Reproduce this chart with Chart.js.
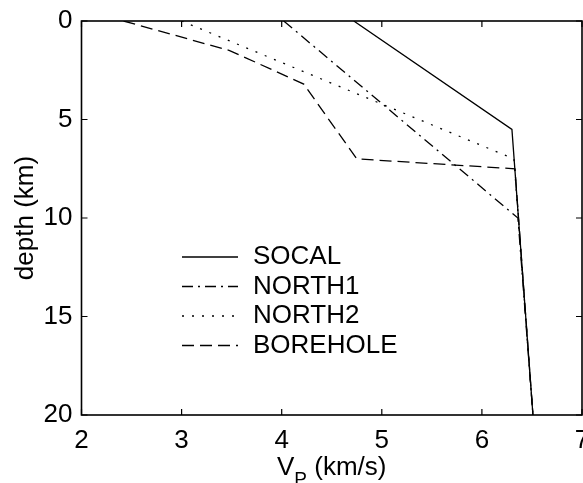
<!DOCTYPE html>
<html>
<head>
<meta charset="utf-8">
<script src="https://cdn.jsdelivr.net/npm/chart.js@4"></script>
<style>
  html, body { margin: 0; padding: 0; background: #fff; }
  #wrap { width: 583px; height: 483px; }
</style>
</head>
<body>
<div id="wrap"><canvas id="vpChart"></canvas></div>
<script>
// velocity models: P velocity (km/s) against depth (km)
const modelNames = ['SOCAL', 'NORTH1', 'NORTH2', 'BOREHOLE'];

const socalVp = [4.72, 6.30, 6.51];
const socalDepth = [0, 5.5, 20];

const north1Vp = [4.02, 6.36, 6.51];
const north1Depth = [0, 10, 20];

const north2Vp = [3.0, 6.32, 6.51];
const north2Depth = [0, 7.0, 20];

const boreholeVp = [2.42, 3.48, 4.22, 4.75, 6.33, 6.51];
const boreholeDepth = [0, 1.5, 3.2, 7.0, 7.5, 20];

const vpTicks = [2, 3, 4, 5, 6, 7];
const depthTicks = [0, 5, 10, 15, 20];

const FONT = "'Liberation Sans', Arial, Helvetica, sans-serif";
Chart.defaults.font.family = FONT;
Chart.defaults.font.size = 26;
Chart.defaults.color = '#000';

const toPoints = (vp, depth) => vp.map((v, i) => ({ x: v, y: depth[i] }));

const lineStyle = (label, pts, dash) => ({
  label,
  data: pts,
  showLine: true,
  borderColor: '#000',
  borderWidth: 1.3,
  borderDash: dash,
  pointRadius: 0,
  fill: false,
  tension: 0
});

const datasets = [
  lineStyle(modelNames[0], toPoints(socalVp, socalDepth), []),
  lineStyle(modelNames[1], toPoints(north1Vp, north1Depth), [11, 5, 2, 5]),
  lineStyle(modelNames[2], toPoints(north2Vp, north2Depth), [2, 8]),
  lineStyle(modelNames[3], toPoints(boreholeVp, boreholeDepth), [12, 6])
];

// box, inward ticks on all four sides, legend and the V_P axis title
const matlabAxes = {
  id: 'matlabAxes',
  afterDatasetsDraw(chart) {
    const { ctx, chartArea: a, scales } = chart;
    ctx.save();
    ctx.strokeStyle = '#000';
    ctx.lineWidth = 1.6;
    ctx.setLineDash([]);
    ctx.strokeRect(a.left, a.top, a.right - a.left, a.bottom - a.top);

    const tl = 6;
    ctx.lineWidth = 1.2;
    ctx.beginPath();
    scales.x.ticks.forEach(t => {
      const px = scales.x.getPixelForValue(t.value);
      ctx.moveTo(px, a.bottom); ctx.lineTo(px, a.bottom - tl);
      ctx.moveTo(px, a.top); ctx.lineTo(px, a.top + tl);
    });
    scales.y.ticks.forEach(t => {
      const py = scales.y.getPixelForValue(t.value);
      ctx.moveTo(a.left, py); ctx.lineTo(a.left + tl, py);
      ctx.moveTo(a.right, py); ctx.lineTo(a.right - tl, py);
    });
    ctx.stroke();

    // legend
    const lx0 = 182, lx1 = 238, tx = 253, ly0 = 257, dy = 29.5;
    ctx.font = '26px ' + FONT;
    ctx.fillStyle = '#000';
    ctx.textBaseline = 'middle';
    ctx.textAlign = 'left';
    chart.data.datasets.forEach((ds, i) => {
      const y = ly0 + i * dy;
      ctx.lineWidth = ds.borderWidth;
      ctx.setLineDash(ds.borderDash);
      ctx.beginPath();
      ctx.moveTo(lx0, y); ctx.lineTo(lx1, y);
      ctx.stroke();
      ctx.fillText(ds.label, tx, y);
    });
    ctx.setLineDash([]);

    // x title with subscript
    const big = '26px ' + FONT, small = '19px ' + FONT;
    ctx.textBaseline = 'alphabetic';
    ctx.font = big;
    const wV = ctx.measureText('V').width;
    const wRest = ctx.measureText(' (km/s)').width;
    ctx.font = small;
    const wP = ctx.measureText('P').width;
    const cx = (a.left + a.right) / 2;
    let x = cx - (wV + wP + wRest) / 2;
    const base = 475;
    ctx.font = big;
    ctx.fillText('V', x, base);
    x += wV;
    ctx.font = small;
    ctx.fillText('P', x, base + 10);
    x += wP;
    ctx.font = big;
    ctx.fillText(' (km/s)', x, base);
    ctx.restore();
  }
};

new Chart(document.getElementById('vpChart'), {
  type: 'scatter',
  data: { datasets },
  options: {
    responsive: true,
    maintainAspectRatio: false,
    animation: false,
    layout: { padding: { top: 21, right: 1, left: 0, bottom: 0 } },
    scales: {
      x: {
        type: 'linear',
        min: 2, max: 7,
        afterBuildTicks: s => { s.ticks = vpTicks.map(v => ({ value: v })); },
        afterFit: s => { s.height = 68; s.paddingLeft = 0; s.paddingRight = 0; },
        grid: { display: false, drawTicks: false },
        border: { display: false },
        ticks: { padding: 10, maxRotation: 0, autoSkip: false }
      },
      y: {
        type: 'linear',
        min: 0, max: 20,
        reverse: true,
        afterBuildTicks: s => { s.ticks = depthTicks.map(v => ({ value: v })); },
        afterFit: s => { s.width = 81.5; s.paddingTop = 0; s.paddingBottom = 0; },
        grid: { display: false, drawTicks: false },
        border: { display: false },
        ticks: { padding: 9, autoSkip: false },
        title: { display: true, text: 'depth (km)', padding: { top: 10, bottom: 0 } }
      }
    },
    plugins: {
      legend: { display: false },
      tooltip: { enabled: false }
    }
  },
  plugins: [matlabAxes]
});
</script>
</body>
</html>
